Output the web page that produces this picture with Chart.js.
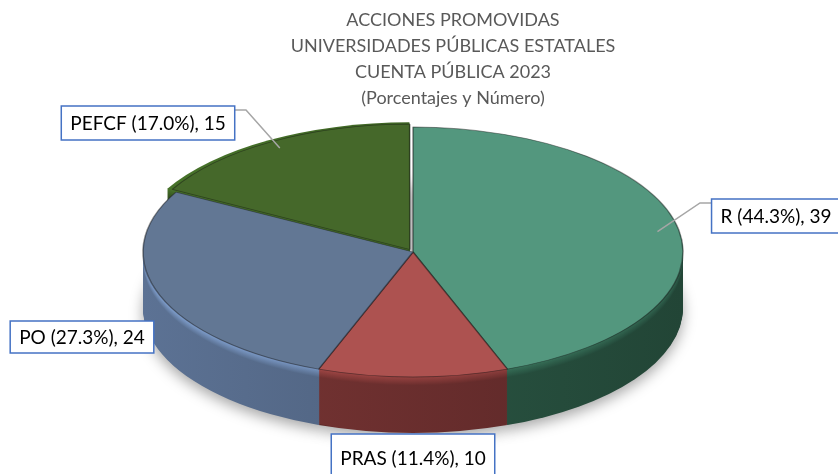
<!DOCTYPE html>
<html>
<head>
<meta charset="utf-8">
<script src="https://cdn.jsdelivr.net/npm/chart.js@4.4.0/dist/chart.umd.min.js"></script>
<style>
  html, body { margin: 0; background: #fff; }
</style>
</head>
<body>
<canvas id="pieChart" width="838" height="474"></canvas>
<script>
// data
var categories = ['R', 'PRAS', 'PO', 'PEFCF'];
var values = [39, 10, 24, 15];
var titleLines = ['ACCIONES PROMOVIDAS', 'UNIVERSIDADES PÚBLICAS ESTATALES', 'CUENTA PÚBLICA 2023', '(Porcentajes y Número)'];

// styles
var topColors = ['#53977e', '#ad5250', '#627794', '#45682a'];
var sideColors = ['#2a5644', '#6e302f', '#526684', '#2e4a1b'];
var fontFamily = 'Lato, "Liberation Sans", sans-serif';

// where the flattened pie sits on the page
var view = { cx: 413, cy: 252, rx: 270, ry: 125, depth: 56 };
// label boxes (centre, height) and optional elbow for the leader line
var labelBoxes = [
  { x: 776, y: 216, h: 34, elbow: [700, 203] },
  { x: 413, y: 458, h: 48, elbow: null },
  { x: 82, y: 337, h: 32, elbow: null },
  { x: 148, y: 123, h: 34, elbow: [246, 110] }
];

var total = values.reduce(function (a, b) { return a + b; }, 0);

function shade(hex, f) {
  var n = parseInt(hex.slice(1), 16);
  var r = Math.min(255, Math.round(((n >> 16) & 255) * f));
  var g = Math.min(255, Math.round(((n >> 8) & 255) * f));
  var b = Math.min(255, Math.round((n & 255) * f));
  return 'rgb(' + r + ',' + g + ',' + b + ')';
}

// same geometry Chart.js uses for an (offset) arc
function arcGeom(arc) {
  var p = arc.getProps(['x', 'y', 'startAngle', 'endAngle', 'outerRadius', 'circumference']);
  var off = (arc.options.offset || 0) / 4;
  var mid = (p.startAngle + p.endAngle) / 2;
  var fix = 1 - Math.sin(Math.min(Math.PI, p.circumference || 0));
  var shift = off + off * fix;
  return {
    x: p.x + Math.cos(mid) * shift,
    y: p.y + Math.sin(mid) * shift,
    r: p.outerRadius + off,
    start: p.startAngle,
    end: p.endAngle,
    mid: mid
  };
}

function setView(ctx, meta, dy) {
  var a0 = meta.data[0];
  var R = a0.outerRadius;
  ctx.translate(view.cx, view.cy + dy);
  ctx.scale(view.rx / R, view.ry / R);
  ctx.translate(-a0.x, -a0.y);
}

var pie3d = {
  id: 'pie3d',
  beforeDatasetDraw: function (chart, args) {
    var ctx = chart.ctx, meta = args.meta;
    var a0 = meta.data[0];
    var R = a0.outerRadius;
    for (var d = view.depth; d >= 1; d--) {
      meta.data.forEach(function (arc, i) {
        var g = arcGeom(arc);
        ctx.save();
        setView(ctx, meta, d);
        var bevel = d < 9 ? 1.45 - d * 0.05 : 1.0;
        var grad = ctx.createLinearGradient(a0.x - R, 0, a0.x + R, 0);
        grad.addColorStop(0, shade(sideColors[i], bevel * 1.12));
        grad.addColorStop(1, shade(sideColors[i], bevel * 0.8));
        ctx.fillStyle = grad;
        if (d === view.depth) {
          ctx.shadowColor = 'rgba(0,0,0,0.35)';
          ctx.shadowBlur = 14;
          ctx.shadowOffsetY = 5;
        }
        ctx.beginPath();
        ctx.moveTo(g.x, g.y);
        ctx.arc(g.x, g.y, g.r, g.start, g.end);
        ctx.closePath();
        ctx.fill();
        ctx.restore();
      });
    }
    ctx.save();
    setView(ctx, meta, 0);
  },
  afterDatasetDraw: function (chart) {
    chart.ctx.restore();
  },
  afterDraw: function (chart) {
    var ctx = chart.ctx;
    var meta = chart.getDatasetMeta(0);
    var a0 = meta.data[0];
    var R = a0.outerRadius;
    ctx.save();
    ctx.font = '19px ' + fontFamily;
    ctx.textAlign = 'center';
    ctx.textBaseline = 'middle';
    meta.data.forEach(function (arc, i) {
      var pct = (values[i] / total * 100).toFixed(1);
      var text = categories[i] + ' (' + pct + '%), ' + values[i];
      var box = labelBoxes[i];
      var w = ctx.measureText(text).width + 18, h = box.h;
      if (box.elbow) {
        var g = arcGeom(arc);
        var ax = view.cx + (g.x - a0.x + Math.cos(g.mid) * g.r * 0.92) * view.rx / R;
        var ay = view.cy + (g.y - a0.y + Math.sin(g.mid) * g.r * 0.92) * view.ry / R;
        var ex = box.x < ax ? box.x + w / 2 : box.x - w / 2;
        ctx.strokeStyle = '#a6a6a6';
        ctx.lineWidth = 1.5;
        ctx.beginPath();
        ctx.moveTo(ax, ay);
        ctx.lineTo(box.elbow[0], box.elbow[1]);
        ctx.lineTo(ex, box.elbow[1]);
        ctx.stroke();
      }
      ctx.fillStyle = '#fff';
      ctx.fillRect(box.x - w / 2, box.y - h / 2, w, h);
      ctx.strokeStyle = '#4472c4';
      ctx.lineWidth = 1.5;
      ctx.strokeRect(box.x - w / 2, box.y - h / 2, w, h);
      ctx.fillStyle = '#000';
      ctx.fillText(text, box.x, box.y + 1);
    });
    ctx.restore();
  }
};

new Chart(document.getElementById('pieChart').getContext('2d'), {
  type: 'pie',
  data: {
    labels: categories,
    datasets: [{
      data: values,
      backgroundColor: topColors,
      borderColor: 'rgba(20,20,20,0.45)',
      borderWidth: 1,
      offset: [0, 0, 0, 15],
      clip: false
    }]
  },
  options: {
    responsive: false,
    animation: false,
    devicePixelRatio: 1,
    events: [],
    layout: { padding: { top: 7, left: 78, right: 10, bottom: 10 } },
    plugins: {
      legend: { display: false },
      tooltip: { enabled: false },
      title: {
        display: true,
        text: titleLines,
        color: '#595959',
        font: { family: fontFamily, size: 18, weight: 'normal', lineHeight: 1.45 },
        padding: { top: 0, bottom: 10 }
      }
    }
  },
  plugins: [pie3d]
});
</script>
</body>
</html>
